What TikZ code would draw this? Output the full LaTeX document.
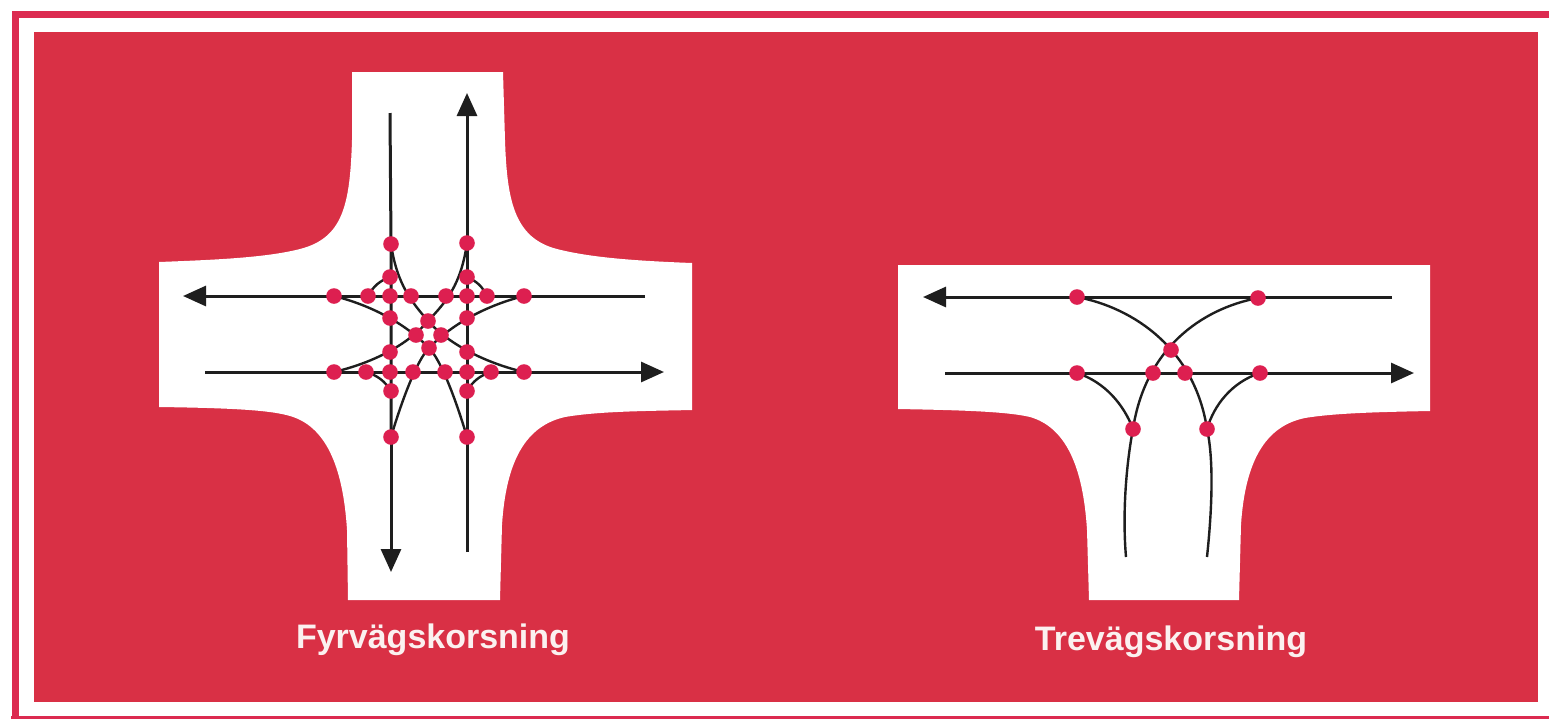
\documentclass[tikz,border=0pt]{standalone}
\usepackage{fontspec}
\setmainfont{Liberation Sans}
\usetikzlibrary{arrows.meta}
\pgfdeclarelayer{back}
\pgfsetlayers{back,main}
\definecolor{panelred}{HTML}{D93045}
\definecolor{framered}{HTML}{DC2A50}
\definecolor{dotred}{HTML}{DD1F50}
\definecolor{ink}{HTML}{1E1E1E}
\definecolor{labelwhite}{HTML}{FBF1F0}
\tikzset{
  dot/.style={circle,fill=dotred,draw=none,inner sep=0pt,minimum size=7.8pt},
  road/.style={fill=white,draw=none},
  lane/.style={draw=ink,line width=1.2pt},
  through/.style={draw=ink,line width=1.5pt},
  through arrow/.style={through,-{Triangle[length=11.5pt,width=10pt]}},
  caption/.style={text=labelwhite,font=\bfseries\fontsize{17}{19}\selectfont,anchor=base,inner sep=0pt},
}
\begin{document}
\begin{tikzpicture}[x=0.5pt,y=-0.5pt]
\useasboundingbox (0,0) rectangle (1549,719);
\begin{pgfonlayer}{back}
\fill[white] (0,0) rectangle (1549,719);
\draw[framered,line width=3.5pt] (1549,14.5) -- (15,14.5) -- (15,719);
\fill[framered] (11,715.5) rectangle (1549,719);
\fill[panelred] (34,32) rectangle (1538,702);
% four-way road
\path[road] (352,72) -- (503,72) -- (505,140)
  .. controls (507,200) and (514,238) .. (557,249)
  .. controls (592,258) and (640,261) .. (692,263)
  -- (692,410)
  .. controls (650,411) and (600,411) .. (565,417)
  .. controls (525,426) and (506,462) .. (502,525)
  -- (500,600) -- (348,600) -- (347,530)
  .. controls (343,465) and (325,426) .. (290,416)
  .. controls (270,410) and (230,408) .. (159,407)
  -- (159,262)
  .. controls (210,260) and (265,258) .. (300,249)
  .. controls (343,238) and (350,205) .. (352,140) -- cycle;
% three-way road
\path[road] (898,265) -- (1430,265) -- (1430,411)
  .. controls (1380,412) and (1335,413) .. (1305,418)
  .. controls (1265,426) and (1245,462) .. (1241,525)
  -- (1239,600) -- (1089,600) -- (1087,530)
  .. controls (1083,465) and (1065,427) .. (1030,417)
  .. controls (1005,411) and (950,410) .. (898,409) -- cycle;
\end{pgfonlayer}
% free ends, four-way
\coordinate (Lvs) at (390,113); \coordinate (Lve) at (391,572);
\coordinate (Rvs) at (467,552); \coordinate (Rve) at (467,93);
\coordinate (Ths) at (645,296); \coordinate (The) at (183,296);
\coordinate (Bhs) at (205,372); \coordinate (Bhe) at (664,372);
% conflict points, four-way
\node[dot] (a1) at (391,244) {}; \node[dot] (a2) at (467,243) {};
\node[dot] (b1) at (390,277) {}; \node[dot] (b2) at (467,277) {};
\node[dot] (c1) at (334,296) {}; \node[dot] (c2) at (368,296) {};
\node[dot] (c3) at (390,296) {}; \node[dot] (c4) at (411,296) {};
\node[dot] (c5) at (446,296) {}; \node[dot] (c6) at (467,296) {};
\node[dot] (c7) at (487,296) {}; \node[dot] (c8) at (524,296) {};
\node[dot] (d1) at (390,318) {}; \node[dot] (d2) at (467,318) {};
\node[dot] (m1) at (428,321) {}; \node[dot] (m2) at (416,335) {};
\node[dot] (m3) at (441,335) {}; \node[dot] (m4) at (429,348) {};
\node[dot] (e1) at (390,352) {}; \node[dot] (e2) at (467,352) {};
\node[dot] (f1) at (334,372) {}; \node[dot] (f2) at (366,372) {};
\node[dot] (f3) at (390,372) {}; \node[dot] (f4) at (413,372) {};
\node[dot] (f5) at (445,372) {}; \node[dot] (f6) at (467,372) {};
\node[dot] (f7) at (491,372) {}; \node[dot] (f8) at (524,372) {};
\node[dot] (g1) at (391,391) {}; \node[dot] (g2) at (467,391) {};
\node[dot] (h1) at (391,437) {}; \node[dot] (h2) at (467,437) {};
% free ends, three-way
\coordinate (Tts) at (1392,297); \coordinate (Tte) at (923,297);
\coordinate (Tbs) at (945,373); \coordinate (Tbe) at (1414,373);
\coordinate (Tl2) at (1126,557);
\coordinate (Tr2) at (1207,557);
% conflict points, three-way
\node[dot] (p1) at (1077,297) {}; \node[dot] (p2) at (1258,298) {};
\node[dot] (p3) at (1171,350) {};
\node[dot] (q1) at (1077,373) {}; \node[dot] (q2) at (1153,373) {};
\node[dot] (q3) at (1185,373) {}; \node[dot] (q4) at (1260,373) {};
\node[dot] (r1) at (1133,429) {}; \node[dot] (r2) at (1207,429) {};
\begin{pgfonlayer}{back}
\draw[through] (Lvs) -- (a1.center) -- (h1.center);
\draw[through arrow] (h1.center) -- (Lve);
\draw[through] (Rvs) -- (h2.center) -- (a2.center);
\draw[through arrow] (a2.center) -- (Rve);
\draw[through arrow] (Ths) -- (The);
\draw[through arrow] (Bhs) -- (Bhe);
\draw[lane] (a1.center) .. controls (397,285) and (412,302) .. (m1.center)
  .. controls (445,340) and (478,361) .. (f8.center);
\draw[lane] (a2.center) .. controls (461,285) and (446,302) .. (m1.center)
  .. controls (411,341) and (380,361) .. (f1.center);
\draw[lane] (c1.center) .. controls (370,305) and (405,323) .. (m4.center)
  .. controls (441,360) and (456,400) .. (h2.center);
\draw[lane] (c8.center) .. controls (488,305) and (453,323) .. (m4.center)
  .. controls (417,360) and (402,400) .. (h1.center);
\draw[lane] (b1.center) to[bend right=20] (c2.center);
\draw[lane] (b2.center) to[bend left=20] (c7.center);
\draw[lane] (f2.center) to[bend left=20] (g1.center);
\draw[lane] (f7.center) to[bend right=20] (g2.center);
\draw[through arrow] (Tts) -- (Tte);
\draw[through arrow] (Tbs) -- (Tbe);
\draw[lane] (p1.center) .. controls (1135,308) and (1195,350) .. (r2.center)
  .. controls (1214,460) and (1212,510) .. (Tr2);
\draw[lane] (p2.center) .. controls (1200,309) and (1145,350) .. (r1.center)
  .. controls (1127,460) and (1122,510) .. (Tl2);
\draw[lane] (q1.center) .. controls (1105,382) and (1124,405) .. (r1.center);
\draw[lane] (q4.center) .. controls (1232,382) and (1214,405) .. (r2.center);
\end{pgfonlayer}
\node[caption] (cap1) at (433,648) {Fyrvägskorsning};
\node[caption] (cap2) at (1171,650) {Trevägskorsning};
\end{tikzpicture}
\end{document}
